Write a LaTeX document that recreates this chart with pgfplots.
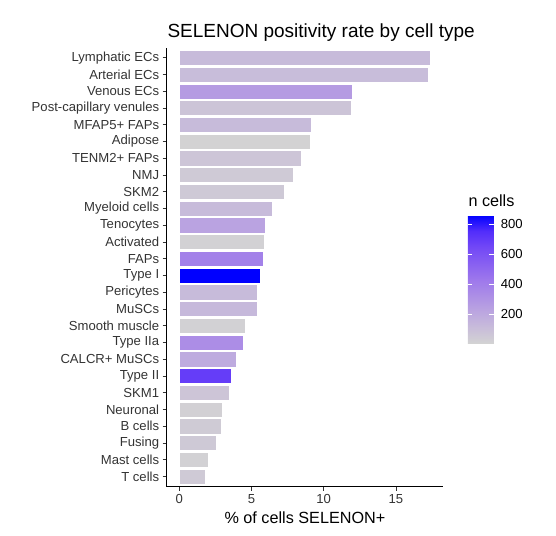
\documentclass[border=0pt]{standalone}
\usepackage{fontspec}
\setmainfont{Liberation Sans}
\usepackage{pgfplots}
\pgfplotsset{compat=1.18}
\usepackage{pgfplotstable}
\definecolor{axtext}{HTML}{333333}
\definecolor{tickc}{HTML}{333333}
\pgfplotstableread{
i v n
26 17.40 118
25 17.26 110
24 11.98 265
23 11.93 75
22 9.14 120
21 9.07 10
20 8.42 70
19 7.89 50
18 7.29 55
17 6.42 120
16 5.95 230
15 5.88 15
14 5.82 390
13 5.61 862
12 5.42 120
11 5.38 130
10 4.57 15
9 4.41 330
8 3.95 195
7 3.58 690
6 3.49 70
5 3.00 20
4 2.91 45
3 2.56 55
2 2.03 15
1 1.78 50
}\data
\begin{document}
\begin{tikzpicture}
\useasboundingbox (-166.7pt,-48.45pt) rectangle (389.3pt,486.55pt);
\begin{axis}[
  at={(0pt,0pt)}, anchor=south west,
  scale only axis, width=276.5pt, height=438.8pt,
  xmin=-0.87, xmax=18.27, ymin=0.4, ymax=26.6,
  xtick={0,5,10,15}, ytick={1,...,26},
  yticklabels={T cells, Mast cells, Fusing, B cells, Neuronal, SKM1, Type II, CALCR+ MuSCs, Type IIa, Smooth muscle, MuSCs, Pericytes, Type I, FAPs, Activated, Tenocytes, Myeloid cells, SKM2, NMJ, TENM2+ FAPs, Adipose, MFAP5+ FAPs, Post-capillary venules, Venous ECs, Arterial ECs, Lymphatic ECs},
  axis x line*=bottom, axis y line*=left,
  axis line style={black, line width=1.1pt, -},
  tick style={tickc, line width=0.9pt},
  major tick length=4pt, tick align=outside,
  ticklabel style={font=\fontsize{13.1}{15}\selectfont, text=axtext},
  /pgf/number format/assume math mode=true,
  xlabel={\% of cells SELENON+},
  xlabel style={font=\fontsize{16.2}{19}\selectfont, at={(axis description cs:0.5,0)}, anchor=base, yshift=-37pt, inner sep=0pt},
  colormap={sel}{rgb255(0pt)=(211,211,211) rgb255(1pt)=(200,188,218) rgb255(2pt)=(187,165,224) rgb255(4pt)=(157,119,236) rgb255(6pt)=(114,72,246) rgb255(7pt)=(82,45,251) rgb255(8pt)=(0,0,255)},
  point meta min=7, point meta max=862,
  colorbar,
  colorbar/width=26pt,
  colorbar style={
    at={(292.6pt,143.25pt)}, anchor=south west,
    scale only axis, width=26pt, height=128.3pt,
    ytick={200,400,600,800},
    ytick pos=both, yticklabel pos=right,
    tick align=inside, major tick length=4.5pt,
    tick style={white, line width=0.7pt},
    axis line style={draw=none},
    yticklabel style={font=\fontsize{13.1}{15}\selectfont, text=black, xshift=3.5pt},
    /pgf/number format/assume math mode=true,
  },
]
\pgfplotsinvokeforeach{0,...,25}{%
  \pgfplotstablegetelem{#1}{n}\of\data
  \pgfmathsetmacro\cv{(\pgfplotsretval-7)/855*1000}%
  \pgfplotstablegetelem{#1}{v}\of\data \let\vv\pgfplotsretval
  \pgfplotstablegetelem{#1}{i}\of\data \let\ii\pgfplotsretval
  \edef\temp{\noexpand\addplot[xbar, bar width=0.9, color of colormap={\cv\space of sel}, fill, draw=white, line width=0.5pt] coordinates {(\vv,\ii)};}%
  \temp
}
\end{axis}
\node[anchor=base west, inner sep=0pt, font=\fontsize{19}{22}\selectfont] at (0.6pt,448.85pt) {SELENON positivity rate by cell type};
\node[anchor=base west, inner sep=0pt, font=\fontsize{16.2}{19}\selectfont] at (301.6pt,280.5pt) {n cells};
\end{tikzpicture}
\end{document}
